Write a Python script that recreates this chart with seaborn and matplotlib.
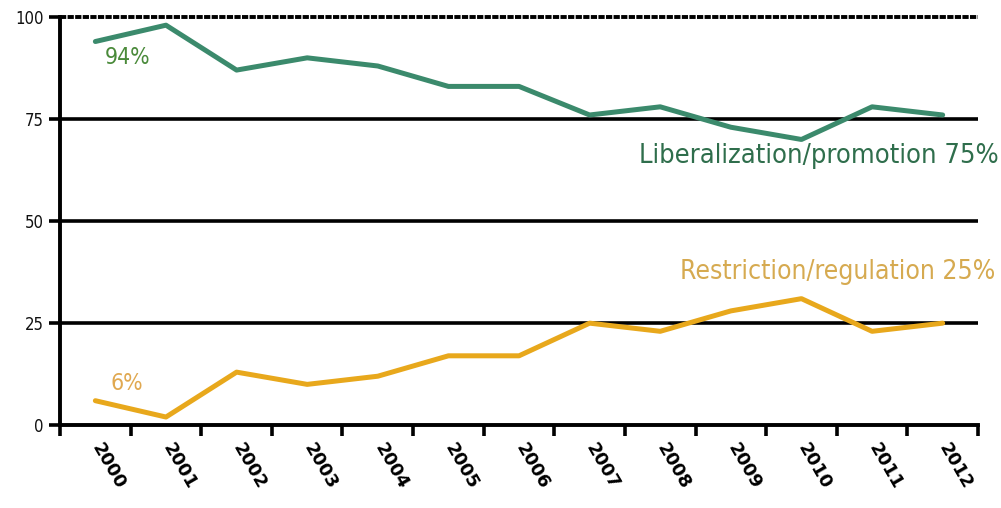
import pandas as pd
import matplotlib
matplotlib.use('Agg')
import matplotlib.pyplot as plt
import seaborn as sns

# values
years = ['2000', '2001', '2002', '2003', '2004', '2005', '2006',
         '2007', '2008', '2009', '2010', '2011', '2012']
liberalization = [94, 98, 87, 90, 88, 83, 83, 76, 78, 73, 70, 78, 76]
restriction = [6, 2, 13, 10, 12, 17, 17, 25, 23, 28, 31, 23, 25]
y_ticks = [0, 25, 50, 75, 100]

green = '#3b8a6c'
orange = '#e8a81c'

df = pd.DataFrame({'year': years * 2,
                   'share': liberalization + restriction,
                   'kind': ['lib'] * len(years) + ['res'] * len(years)})

sns.set_style('white')
plt.rcParams['font.family'] = ['DejaVu Sans']

fig = plt.figure(figsize=(10.01, 5.08), dpi=100)
ax = fig.add_axes([0.06, 0.163, 0.917, 0.8035])

# gridlines first so the series sit on top
for y in y_ticks[1:-1]:
  ax.axhline(y, color='black', lw=2.6, zorder=1)
ax.axhline(100, color='black', lw=2.8, ls=(0, (1.6, 0.35)), zorder=1, clip_on=False)

sns.lineplot(data=df, x='year', y='share', hue='kind', palette=[green, orange],
             linewidth=3.6, legend=False, ax=ax, zorder=3, sort=False)

ax.set_xlim(-0.5, len(years) - 0.5)
ax.set_ylim(0, 100)

# ticks on category boundaries, labels just right of category centres
ax.set_xticks([i - 0.5 for i in range(len(years) + 1)])
ax.set_xticklabels([])
ax.set_xticks([i + 0.12 for i in range(len(years))], minor=True)
ax.set_xticklabels(years, minor=True, rotation=-60, ha='left', va='top',
                   rotation_mode='anchor', fontsize=13, fontweight='bold',
                   color='black')
ax.tick_params(axis='x', which='major', direction='out', length=8, width=2.6,
               color='black', bottom=True)
ax.tick_params(axis='x', which='minor', length=0, pad=11)

ax.set_yticks(y_ticks)
ax.set_yticklabels([str(v) for v in y_ticks], fontsize=12, fontstretch='condensed',
                   color='#111111')
ax.tick_params(axis='y', direction='out', length=8, width=2.6, color='black',
               left=True, pad=4)

for side in ['top', 'right']:
  ax.spines[side].set_visible(False)
for side in ['left', 'bottom']:
  ax.spines[side].set_linewidth(2.8)
  ax.spines[side].set_color('black')

ax.set_xlabel('')
ax.set_ylabel('')

# series labels
ax.text(12.79, 66, 'Liberalization/promotion 75%', color='#2f6e4c', fontsize=19.5,
        fontstretch='condensed', ha='right', va='center', clip_on=False)
ax.text(12.74, 37.5, 'Restriction/regulation 25%', color='#d6aa50', fontsize=19,
        fontstretch='condensed', ha='right', va='center', clip_on=False)
ax.text(0.14, 90.2, '94%', color='#4a8a3a', fontsize=16.5,
        fontstretch='condensed', ha='left', va='center')
ax.text(0.21, 10.3, '6%', color='#e0a850', fontsize=16.5,
        fontstretch='condensed', ha='left', va='center')

fig.savefig('out.png', dpi=100, facecolor='white')
